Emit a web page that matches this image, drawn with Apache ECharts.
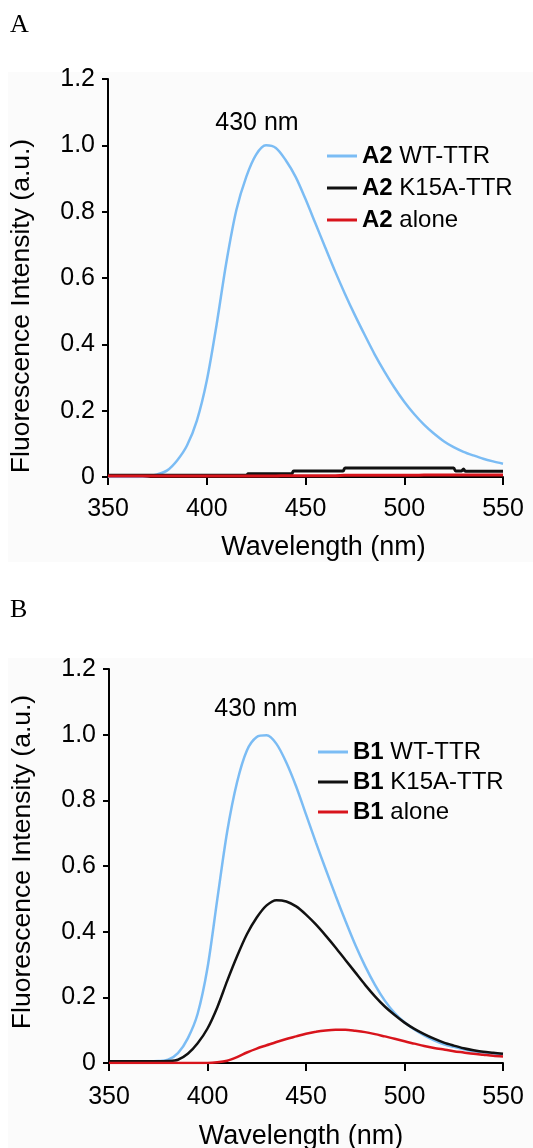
<!DOCTYPE html>
<html>
<head>
<meta charset="utf-8">
<script src="https://cdn.jsdelivr.net/npm/echarts@6/dist/echarts.min.js"></script>
<style>
html,body{margin:0;padding:0;background:#fff;}
#chart{width:533px;height:1148px;}
</style>
</head>
<body>
<div id="chart"></div>
<script>
// ---- Data ----
var xTicks = [350, 400, 450, 500, 550];
var yTicks = [0, 0.2, 0.4, 0.6, 0.8, 1.0, 1.2];

// common 5 nm wavelength grid
var wl = [350,355,360,365,370,375,380,385,390,395,400,405,410,415,420,425,430,435,440,445,450,455,460,465,470,475,480,485,490,495,500,505,510,515,520,525,530,535,540,545,550];

// Panel A
var wtA = [0,0,0,0,0.002,0.008,0.02,0.05,0.095,0.17,0.29,0.46,0.65,0.805,0.905,0.972,1.0,0.992,0.955,0.905,0.838,0.765,0.692,0.62,0.552,0.488,0.428,0.37,0.318,0.27,0.227,0.19,0.158,0.131,0.108,0.09,0.076,0.065,0.055,0.047,0.04];
var wlK15A_A = [350,420,421,443,444,469,470,525,526,529,530,531,550];
var k15aA = [0.005,0.005,0.01,0.01,0.018,0.018,0.027,0.027,0.018,0.018,0.024,0.017,0.017];
var aloneA = [0.003,0.003,0.003,0.003,0.003,0.003,0.003,0.003,0.003,0.003,0.003,0.003,0.003,0.003,0.003,0.003,0.003,0.003,0.004,0.004,0.004,0.004,0.004,0.004,0.005,0.005,0.005,0.005,0.005,0.005,0.005,0.005,0.006,0.006,0.006,0.006,0.006,0.006,0.006,0.006,0.006];

// Panel B
var wtB = [0.005,0.005,0.005,0.005,0.005,0.006,0.01,0.03,0.075,0.15,0.29,0.5,0.705,0.855,0.952,0.993,0.998,0.972,0.915,0.842,0.757,0.672,0.59,0.51,0.433,0.36,0.295,0.238,0.19,0.152,0.124,0.102,0.084,0.069,0.057,0.049,0.042,0.036,0.032,0.029,0.026];
var k15aB = [0.005,0.005,0.005,0.005,0.005,0.005,0.006,0.01,0.028,0.06,0.105,0.17,0.25,0.325,0.392,0.443,0.48,0.496,0.492,0.477,0.452,0.422,0.388,0.352,0.314,0.276,0.238,0.203,0.172,0.146,0.123,0.104,0.088,0.074,0.062,0.053,0.045,0.039,0.034,0.031,0.028];
var aloneB = [0,0,0,0,0,0,0,0,0,0,0,0.002,0.007,0.018,0.032,0.044,0.054,0.064,0.073,0.081,0.089,0.095,0.099,0.101,0.101,0.098,0.094,0.088,0.081,0.074,0.066,0.059,0.052,0.046,0.041,0.036,0.032,0.028,0.025,0.022,0.02];

var namesA = ['A2 WT-TTR', 'A2 K15A-TTR', 'A2 alone'];
var namesB = ['B1 WT-TTR', 'B1 K15A-TTR', 'B1 alone'];
var peakLabel = '430 nm';
var xTitle = 'Wavelength (nm)';
var yTitle = 'Fluorescence Intensity (a.u.)';

// ---- Helpers ----
function pairs(xs, ys) { return xs.map(function (x, i) { return [x, ys[i]]; }); }
var FONT = '"Liberation Sans", Arial, sans-serif';
var BLUE = '#7bbcf4', BLACK = '#111111', RED = '#d8141c';

function xAxisCfg(gi, namePad, gap, margin) {
  return {
    type: 'value', gridIndex: gi, min: 350, max: 550, interval: 50,
    name: xTitle, nameLocation: 'middle', nameGap: gap,
    nameTextStyle: { fontFamily: FONT, fontSize: 27, color: '#000', padding: namePad },
    axisLine: { lineStyle: { color: '#000', width: 2 } },
    axisTick: { length: 8, lineStyle: { color: '#000', width: 2 } },
    axisLabel: { fontFamily: FONT, fontSize: 25, color: '#000', margin: margin },
    splitLine: { show: false }
  };
}
function yAxisCfg(gi, namePad) {
  return {
    type: 'value', gridIndex: gi, min: 0, max: 1.2, interval: 0.2,
    name: yTitle, nameLocation: 'middle', nameGap: 73,
    nameTextStyle: { fontFamily: FONT, fontSize: 26.5, color: '#000', padding: namePad },
    axisLine: { show: true, lineStyle: { color: '#000', width: 2 } },
    axisTick: { show: true, length: 6, lineStyle: { color: '#000', width: 2 } },
    axisLabel: { fontFamily: FONT, fontSize: 25, color: '#000', margin: 13,
      formatter: function (v) { return v === 0 ? '0' : v.toFixed(1); } },
    splitLine: { show: false }
  };
}
function lineSeries(name, gi, data, color, w) {
  return {
    name: name, type: 'line', xAxisIndex: gi, yAxisIndex: gi, data: data,
    showSymbol: false, symbol: 'none', smooth: 0.3,
    lineStyle: { color: color, width: w }, itemStyle: { color: color },
    emphasis: { disabled: true }, animation: false
  };
}
function legendCfg(names, left, top, gap) {
  return {
    data: names, orient: 'vertical', left: left, top: top, itemGap: gap, padding: 0,
    itemWidth: 30, itemHeight: 3, icon: 'rect',
    textStyle: { fontFamily: FONT, fontSize: 24, color: '#000', lineHeight: 26,
      rich: { b: { fontFamily: FONT, fontSize: 24, fontWeight: 'bold', color: '#000' } } },
    formatter: function (n) { var p = n.split(' '); return '{b|' + p[0] + '} ' + p.slice(1).join(' '); },
    selectedMode: false
  };
}

var chart = echarts.init(document.getElementById('chart'), null, { renderer: 'canvas' });
chart.setOption({
  backgroundColor: '#ffffff',
  animation: false,
  graphic: [
    { type: 'rect', z: -10, shape: { x: 8, y: 72, width: 525, height: 490 }, style: { fill: '#fbfbfb' } },
    { type: 'rect', z: -10, shape: { x: 8, y: 658, width: 525, height: 490 }, style: { fill: '#fbfbfb' } },
    { type: 'text', left: 10, top: 12, style: { text: 'A', font: '26px "Liberation Serif", serif', fill: '#000' } },
    { type: 'text', left: 10, top: 597, style: { text: 'B', font: '26px "Liberation Serif", serif', fill: '#000' } },
    { type: 'text', x: 257, y: 123, style: { text: peakLabel, font: '25px ' + FONT, fill: '#000', align: 'center', verticalAlign: 'middle' } },
    { type: 'text', x: 256, y: 709, style: { text: peakLabel, font: '25px ' + FONT, fill: '#000', align: 'center', verticalAlign: 'middle' } }
  ],
  grid: [
    { left: 108, top: 79, width: 395, height: 398, containLabel: false, outerBoundsMode: 'none' },
    { left: 109, top: 669, width: 394, height: 394, containLabel: false, outerBoundsMode: 'none' }
  ],
  legend: [
    legendCfg(namesA, 327, 143, 6),
    legendCfg(namesB, 318, 739, 4)
  ],
  xAxis: [xAxisCfg(0, [0, 0, 0, 36], 57, 20), xAxisCfg(1, [0, 0, 0, -10], 60, 22)],
  yAxis: [yAxisCfg(0, [0, 56, 0, 0]), yAxisCfg(1, [0, 0, 0, 8])],
  series: [
    lineSeries(namesA[0], 0, pairs(wl, wtA), BLUE, 2.5),
    lineSeries(namesA[1], 0, pairs(wlK15A_A, k15aA), BLACK, 3),
    lineSeries(namesA[2], 0, pairs(wl, aloneA), RED, 3),
    lineSeries(namesB[0], 1, pairs(wl, wtB), BLUE, 2.5),
    lineSeries(namesB[1], 1, pairs(wl, k15aB), BLACK, 2.5),
    lineSeries(namesB[2], 1, pairs(wl, aloneB), RED, 2.5)
  ]
});
</script>
</body>
</html>
